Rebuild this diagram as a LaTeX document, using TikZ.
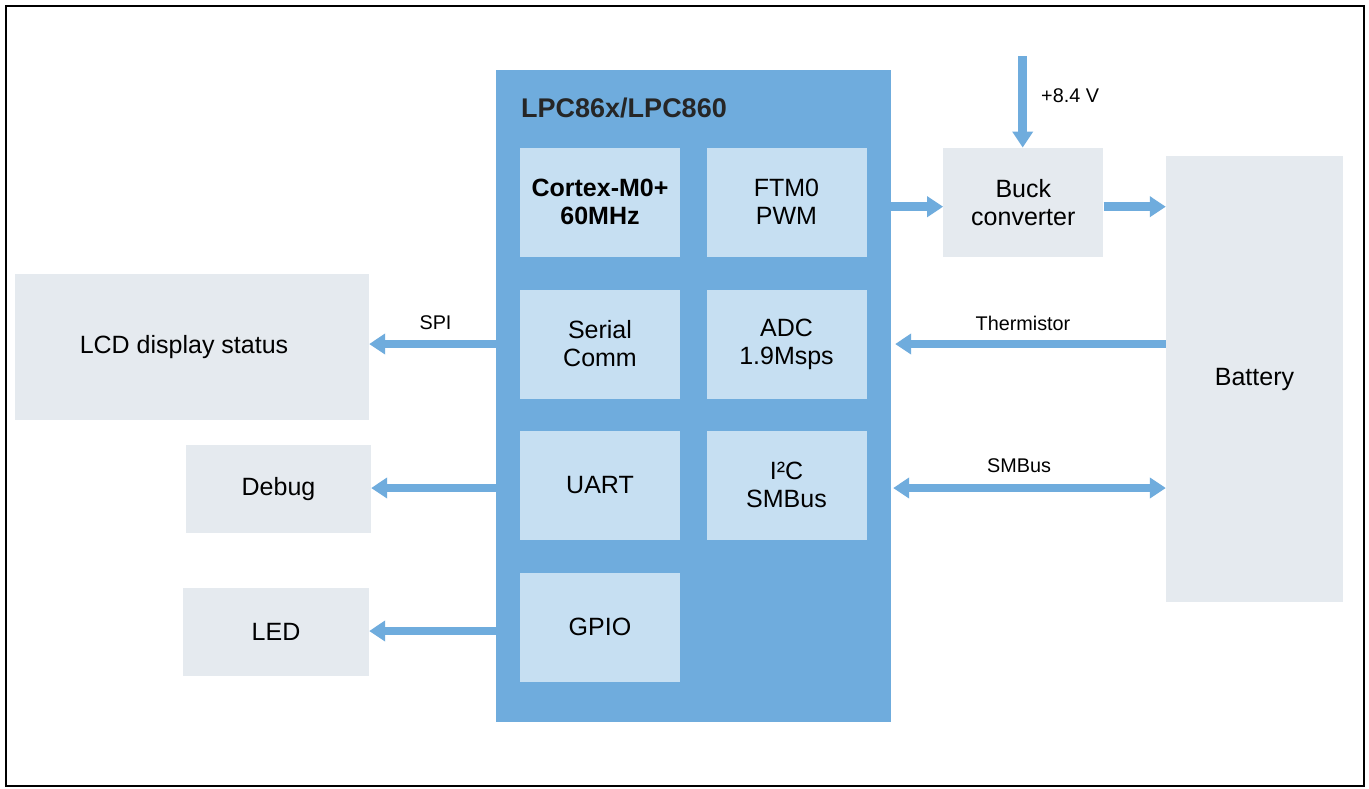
\documentclass[tikz,border=0pt]{standalone}
\usepackage{fontspec}
\setmainfont{Liberation Sans}
\usetikzlibrary{arrows.meta,calc}
\definecolor{mainblue}{HTML}{6FACDD}
\definecolor{innerblue}{HTML}{C6DFF2}
\definecolor{boxgray}{HTML}{E5EAEF}
\tikzset{
  inner/.style={fill=innerblue,draw=none,minimum width=160pt,minimum height=109pt,inner sep=0pt,align=center,font=\fontsize{25}{28}\selectfont},
  ext/.style={fill=boxgray,draw=none,inner sep=0pt,align=center,font=\fontsize{25}{28}\selectfont},
  arr/.style={draw=mainblue,line width=8.5pt,-{Triangle[width=20pt,length=16pt]}},
  darr/.style={draw=mainblue,line width=8.5pt,{Triangle[width=20pt,length=16pt]}-{Triangle[width=20pt,length=16pt]}},
  lbl/.style={font=\fontsize{19.8}{22}\selectfont,inner sep=0pt}
}
\begin{document}
\begin{tikzpicture}[x=1pt,y=-1pt]
\useasboundingbox (0,0) rectangle (1369,788);
\fill[white] (0,0) rectangle (1369,788);
\draw[line width=2.2pt] (6,6) rectangle (1364,786);
% main block
\node[fill=mainblue,minimum width=395pt,minimum height=652pt,inner sep=0pt] (main) at (693.5,396) {};
\node[anchor=west,inner sep=0pt,font=\fontsize{27}{30}\selectfont\bfseries,text=black!85] (title) at (521,108) {LPC86x/LPC860};
\node[inner,font=\fontsize{25}{28}\selectfont\bfseries] (cpu) at (600,202) {Cortex-M0+\\60MHz};
\node[inner] (ftm) at (786.5,202) {FTM0\\PWM};
\node[inner] (serial) at (600,344) {Serial\\Comm};
\node[inner] (adc) at (786.5,344) {ADC\\1.9Msps};
\node[inner] (uart) at (600,485) {UART};
\node[inner] (i2c) at (786.5,485) {I²C\\SMBus};
\node[inner] (gpio) at (600,627) {GPIO};
% external boxes
\node[ext,minimum width=160pt,minimum height=109pt] (buck) at (1023.3,202.2) {Buck\\converter};
\node[ext,minimum width=177pt,minimum height=446pt] (bat) at (1254.5,379) {Battery};
\node[ext,minimum width=354pt,minimum height=146pt] (lcd) at (192,347) {\hspace*{-16pt}LCD display status};
\node[ext,minimum width=185pt,minimum height=88pt] (debug) at (278.5,489) {Debug};
\node[ext,minimum width=186pt,minimum height=88pt] (led) at (276,632) {LED};
% connectors
\coordinate (pwr) at (1022.7,56);
\draw[arr] (pwr) -- (pwr |- buck.north);
\node[lbl,anchor=west] (vlbl) at (1041,96) {+8.4 V};
\draw[arr] ($(main.east |- buck.west)+(0,4.5)$) -- ($(buck.west)+(0,4.5)$);
\draw[arr] ($(buck.east)+(0,4.5)$) -- ($(bat.west |- buck.east)+(0,4.5)$);
\draw[arr] (bat.west |- adc) -- ($(main.east |- adc)+(4,0)$);
\node[lbl] (therm) at (1023,323) {Thermistor};
\draw[darr] ($(main.east |- i2c)+(2,3)$) -- ($(bat.west |- i2c)+(0,3)$);
\node[lbl] (smb) at (1019,466) {SMBus};
\draw[arr] (main.west |- serial) -- (lcd.east |- serial);
\node[lbl] (spi) at (435.5,323) {SPI};
\draw[arr] ($(main.west |- uart)+(0,3)$) -- ($(debug.east |- uart)+(0,3)$);
\draw[arr] ($(main.west |- gpio)+(0,4)$) -- ($(led.east |- gpio)+(0,4)$);
\end{tikzpicture}
\end{document}
